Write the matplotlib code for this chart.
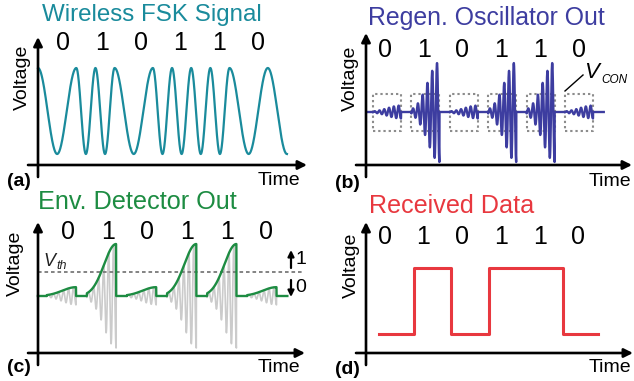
import numpy as np
import matplotlib
matplotlib.use('Agg')
import matplotlib.pyplot as plt
from matplotlib.lines import Line2D

plt.rcParams['font.family'] = ['Liberation Sans', 'DejaVu Sans']

# ---------------- data ----------------
bits = [0, 1, 0, 1, 1, 0]
bit_labels = ['0', '1', '0', '1', '1', '0']
titles = ['Wireless FSK Signal', 'Regen. Oscillator Out', 'Env. Detector Out', 'Received Data']
title_colors = ['#1a8b9c', '#3d3da0', '#1d8c42', '#e8383f']
panel_tags = ['(a)', '(b)', '(c)', '(d)']
fsk_cycles_per_bit = [1, 2]          # cycles per bit for a 0 and for a 1
osc_peak_b = [0.13, 1.0, 0.13, 1.0, 1.0, 0.13]
osc_peak_c = [0.17, 1.0, 0.17, 1.0, 1.0, 0.17]
growth_sigma = [0.34, 0.30]          # for bit 0 / bit 1
osc_cycles_per_bit = 8
box_start = 0.27                     # quench window start within a bit
vcon_high, vcon_low = 0.36, -0.38
v_th = 0.46

W, H = 634, 381
fig = plt.figure(figsize=(W / 100, H / 100), dpi=100)


def panel(left, right, top, bottom, x0, sx, y0, sy, xext=10, yext=12):
    ax = fig.add_axes([left / W, 1 - bottom / H, (right - left) / W, (bottom - top) / H])
    ax.set_xlim((left - x0) / sx, (right - x0) / sx)
    ax.set_ylim((y0 - bottom) / sy, (y0 - top) / sy)
    ax.set_axis_off()
    ap = dict(arrowstyle='-|>', lw=1.9, color='black', shrinkA=0, shrinkB=0,
              mutation_scale=13)
    ax.annotate('', xy=(0, 1), xytext=(0, -yext / (bottom - top)),
                xycoords='axes fraction', textcoords='axes fraction', arrowprops=ap)
    ax.annotate('', xy=(1, 0), xytext=(-xext / (right - left), 0),
                xycoords='axes fraction', textcoords='axes fraction', arrowprops=ap)
    return ax


def ftext(x, y, s, **kw):
    kw.setdefault('ha', 'center')
    kw.setdefault('va', 'center')
    return fig.text(x / W, 1 - y / H, s, **kw)


def fit_title(x, y, s, width, color):
    t = ftext(x, y, s, fontsize=18, color=color)
    r = fig.canvas.get_renderer()
    bb = t.get_window_extent(r)
    t.set_fontsize(18 * width / bb.width)


def farrow(x, y1, y2):
    fig.add_artist(matplotlib.patches.FancyArrowPatch(
        (x / W, 1 - y1 / H), (x / W, 1 - y2 / H), transform=fig.transFigure,
        arrowstyle='-|>', lw=1.6, color='black', mutation_scale=9,
        shrinkA=0, shrinkB=0))


def oscillation(t, peaks):
    v = np.zeros_like(t)
    env = np.zeros_like(t)
    for i, b in enumerate(bits):
        end = i + 1
        m = (t >= i + box_start) & (t < end)
        d = t[m] - end
        e = peaks[i] * np.exp(-0.5 * (d / growth_sigma[b]) ** 2)
        env[m] = e
        v[m] = -e * np.cos(2 * np.pi * osc_cycles_per_bit * d)
    return v, env


# ---------------- (a) FSK ----------------
axa = panel(38, 307, 37, 165, 38, 38.3, 111, 43)
t = np.linspace(0, len(bits) + 0.5, 3000)
cyc = np.array([fsk_cycles_per_bit[b] for b in bits] + [fsk_cycles_per_bit[bits[-1]]])
cum = np.concatenate([[0], np.cumsum(cyc)])
idx = np.minimum(t.astype(int), len(cyc) - 1)
phase = cum[idx] + cyc[idx] * (t - idx)
axa.plot(t, np.cos(2 * np.pi * phase), color='#1a8b9c', lw=1.6, clip_on=False)

# ---------------- (b) regenerative oscillator ----------------
axb = panel(366, 632, 33, 165, 362.6, 38.4, 112, 50)
tb = np.linspace(0.11, 6.28, 8000)
vb, _ = oscillation(tb, osc_peak_b)
for i in range(len(bits)):
    x1, x2 = i + box_start, i + 1
    axb.plot([x1, x2, x2, x1, x1], [vcon_low, vcon_low, vcon_high, vcon_high, vcon_low],
             color='#8c8c8c', lw=1.5, ls=(0, (1.1, 1.4)), clip_on=False)
axb.plot(tb, vb, color='#3d3da0', lw=1.7, clip_on=False)
fig.add_artist(Line2D([583 / W, 565 / W], [1 - 75 / H, 1 - 91 / H], color='black', lw=1.0))
ftext(592, 72, 'V', fontsize=16, style='italic')
ftext(614, 80, 'CON', fontsize=8.5, style='italic')

# ---------------- (c) envelope detector ----------------
axc = panel(38, 305, 222, 353, 35.9, 40.1, 296, 52)
tc = np.linspace(0.05, 6.27, 8000)
vc, envc = oscillation(tc, osc_peak_c)
axc.plot(tc, vc, color='#cbcbcb', lw=1.2, clip_on=False)
axc.plot([0.05, 6.67], [v_th, v_th], color='#7a7a7a', lw=1.3, ls=(0, (2, 1.6)), clip_on=False)
axc.plot(tc, envc, color='#1d8c42', lw=1.7, clip_on=False)
ftext(49, 261, 'V', fontsize=13, style='italic', color='#222222')
ftext(62, 266, 'th', fontsize=9, style='italic', color='#222222')
farrow(291, 268, 250)
farrow(291, 280, 297)
ftext(301, 259, '1', fontsize=14)
ftext(301, 288, '0', fontsize=14)

# ---------------- (d) received data ----------------
axd = panel(366, 633, 222, 353, 377, 37.2, 334, 66)
xs = np.r_[0.05, np.arange(1, len(bits)), len(bits) - 0.05]
ys = bits + [bits[-1]]
axd.step(xs, ys, where='post', color='#e8383f', lw=2.2, clip_on=False)

# ---------------- texts ----------------
fit_title(152, 15, titles[0], 220, title_colors[0])
fit_title(486, 18, titles[1], 238, title_colors[1])
fit_title(137, 202, titles[2], 199, title_colors[2])
fit_title(452, 206, titles[3], 164, title_colors[3])

label_rows = [
    (38, 38.3, 0.65, 1.02, 43),
    (362.6, 38.4, 0.58, 1.01, 50),
    (35.9, 40.1, 0.80, 0.99, 232),
    (377, 37.2, 0.21, 1.04, 237),
]
for (x0, sx, off, sp, yy) in label_rows:
    for i, lab in enumerate(bit_labels):
        ftext(x0 + sx * (off + sp * i), yy, lab, fontsize=18)

for (x, y) in [(22, 77), (350, 78), (15, 263), (351, 265)]:
    ftext(x, y, 'Voltage', fontsize=14, rotation=90)
for (x, y) in [(279, 180), (610, 181), (279, 367), (610, 368)]:
    ftext(x, y, 'Time', fontsize=14)
for (x, y), tag in zip([(19, 182), (347, 183), (19, 367), (347, 370)], panel_tags):
    ftext(x, y, tag, fontsize=14, fontweight='bold')

fig.savefig('out.png', dpi=100)
